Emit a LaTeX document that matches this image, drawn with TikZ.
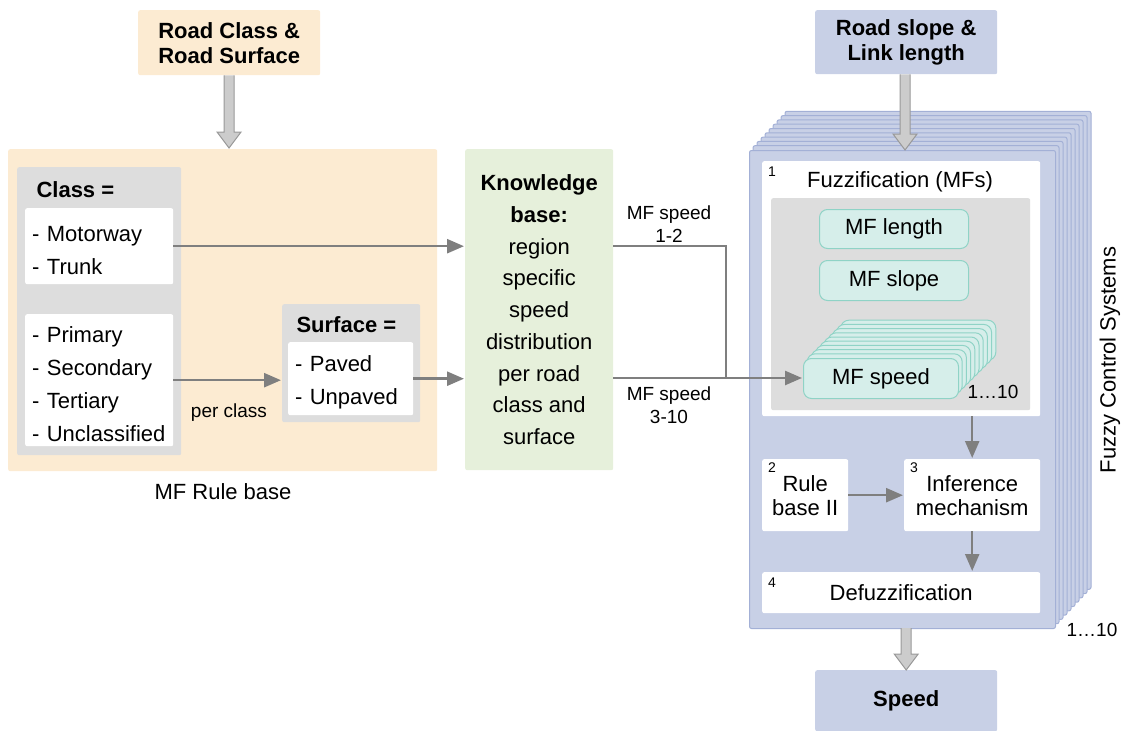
\documentclass[tikz,border=0pt]{standalone}
\usepackage{fontspec}
\setmainfont{Liberation Sans}
\usetikzlibrary{arrows.meta,calc}

\definecolor{peach}{HTML}{FCEBD2}
\definecolor{boxgray}{HTML}{DDDDDD}
\definecolor{kbgreen}{HTML}{E6F0DB}
\definecolor{fcsblue}{HTML}{C8D0E6}
\definecolor{fcsedge}{HTML}{A3B0D6}
\definecolor{mffill}{HTML}{D6EEEA}
\definecolor{mfedge}{HTML}{8FD3C6}
\definecolor{arrowgray}{HTML}{7F7F7F}
\definecolor{hollowfill}{HTML}{CCCCCC}
\definecolor{hollowedge}{HTML}{999999}

% hollow block arrow from one node (or coordinate) down to another
\newcommand{\hollowarrow}[2]{%
  \draw[hollow] ($(#1 -| #2)+(-5,0)$) -- ($(#2)+(-5,-16)$) -- ($(#2)+(-12,-16)$)
    -- (#2) -- ($(#2)+(12,-16)$) -- ($(#2)+(5,-16)$) -- ($(#1 -| #2)+(5,0)$);}

\begin{document}
\begin{tikzpicture}[x=1pt, y=-1pt, font=\fontsize{22}{26}\selectfont,
    panel/.style={anchor=north west, inner sep=0pt, rounded corners=2pt},
    listbox/.style={panel, fill=white, inner xsep=7pt, align=left, font=\fontsize{22}{33}\selectfont},
    title/.style={panel, align=center, font=\bfseries\fontsize{22}{25}\selectfont},
    small/.style={font=\fontsize{19}{23}\selectfont, align=center},
    num/.style={inner sep=0pt, font=\fontsize{14}{14}\selectfont},
    mfbox/.style={panel, fill=mffill, draw=mfedge, line width=1pt, rounded corners=8pt},
    arr/.style={draw=arrowgray, line width=2.5pt, -{Triangle[length=17pt,width=14pt]}, shorten >=1pt},
    conn/.style={draw=arrowgray, line width=2.5pt},
    hollow/.style={fill=hollowfill, draw=hollowedge, line width=1pt}]

    \useasboundingbox (0,0) rectangle (1122,731);

    % --- Input: road class and surface ---
    \node[title, fill=peach, minimum width=182pt, minimum height=65pt] (roadin) at (138,10) {Road Class \&\\Road Surface};

    % --- MF rule base ---
    \node[panel, fill=peach, minimum width=429pt, minimum height=322pt] (rulebase) at (8,149) {};
    \node (rulelbl) at (223,492) {MF Rule base};

    \node[panel, fill=boxgray, minimum width=164pt, minimum height=288pt] (classbox) at (17,167) {};
    \node[anchor=west, font=\bfseries\fontsize{22}{26}\selectfont] (classlbl) at (33,190) {Class =};
    \node[listbox, text width=134pt, minimum height=76pt] (cls1) at (25,208) {\strut- Motorway\\- Trunk};
    \node[listbox, text width=134pt, minimum height=132pt] (cls2) at (25,314) {\strut- Primary\\- Secondary\\- Tertiary\\- Unclassified};

    \node[panel, fill=boxgray, minimum width=138pt, minimum height=118pt] (surfbox) at (282,304) {};
    \node[anchor=west, font=\bfseries\fontsize{22}{26}\selectfont] (surflbl) at (293,325) {Surface =};
    \node[listbox, text width=111pt, minimum height=73pt] (surf) at (288,342) {\strut- Paved\\- Unpaved};
    \node[small] (perclass) at (229,413) {per class};

    % --- Knowledge base ---
    \node[panel, fill=kbgreen, minimum width=148pt, minimum height=321pt, align=center,
          font=\fontsize{22}{31.75}\selectfont] (kb) at (465,149)
          {\textbf{Knowledge}\\\textbf{base:}\\region\\specific\\speed\\distribution\\per road\\class and\\surface};
    \node[small] (mf12) at (669,224) {MF speed\\1-2};
    \node[small] (mf310) at (669,405) {MF speed\\3-10};

    % --- Fuzzy control systems (stack of 10) ---
    \foreach \i in {9,...,1}
        \draw[fill=fcsblue, draw=fcsedge, line width=1pt, rounded corners=2pt]
            (749+4*\i, 150-4.3*\i) rectangle ++(306,478);
    \node[panel, fill=fcsblue, draw=fcsedge, line width=1pt, minimum width=306pt, minimum height=478pt] (fcs) at (749,150) {};
    \node[rotate=90] (fcslbl) at (1110,360) {Fuzzy Control Systems};
    \node[small] (fcsnum) at (1092,630) {1…10};

    % 1: fuzzification
    \node[panel, fill=white, minimum width=278pt, minimum height=255pt] (fuzz) at (762,161) {};
    \node[num] (n1) at (772,172) {1};
    \node (fuzzlbl) at (900,182) {Fuzzification (MFs)};
    \node[panel, fill=boxgray, minimum width=259pt, minimum height=212pt] (mfarea) at (771,198) {};
    \node[mfbox, minimum width=149pt, minimum height=39pt] (mflength) at (819,209) {MF length};
    \node[mfbox, minimum width=149pt, minimum height=40pt] (mfslope) at (819,260) {MF slope};
    \foreach \i in {9,...,1}
        \draw[fill=mffill, draw=mfedge, line width=1pt, rounded corners=8pt]
            (803+4.2*\i, 358-4.2*\i) rectangle ++(155,40);
    \node[mfbox, minimum width=155pt, minimum height=40pt] (mfspeed) at (803,358) {MF speed};
    \node[small] (mfnum) at (993,392) {1…10};

    % 2, 3: rule base and inference
    \node[panel, fill=white, minimum width=86pt, minimum height=72pt, align=center,
          font=\fontsize{22}{24}\selectfont] (rule) at (762,459) {Rule\\base II};
    \node[num] (n2) at (772,468) {2};
    \node[panel, fill=white, minimum width=136pt, minimum height=72pt, align=center,
          font=\fontsize{22}{24}\selectfont] (infer) at (904,459) {Inference\\mechanism};
    \node[num] (n3) at (914,468) {3};

    % 4: defuzzification
    \node[panel, fill=white, minimum width=278pt, minimum height=41pt] (defuzz) at (762,572) {Defuzzification};
    \node[num] (n4) at (772,583) {4};

    % --- Inputs and output of the stack ---
    \node[title, fill=fcsblue, minimum width=182pt, minimum height=64pt] (slopein) at (815,10) {Road slope \&\\Link length};
    \node[title, fill=fcsblue, minimum width=182pt, minimum height=61pt] (speed) at (815,670) {Speed};

    % --- Connectors ---
    \coordinate (tip1) at (229,148);
    \coordinate (tip2) at (905,150);
    \coordinate (base3) at (905,628);
    \coordinate (join) at (726,378);
    \hollowarrow{roadin.south}{tip1}
    \hollowarrow{slopein.south}{tip2}
    \hollowarrow{base3}{speed.north}

    \draw[arr] (cls1.east) -- (cls1.east -| kb.west);
    \draw[arr] (cls2.east) -- (cls2.east -| surfbox.west);
    \draw[arr] (surf.east) -- (surf.east -| kb.west);
    \draw[conn] (kb.east |- cls1.east) -| (join);
    \draw[arr] (kb.east |- join) -- (join -| mfspeed.west);
    \draw[arr] (infer.north |- fuzz.south) -- (infer.north);
    \draw[arr] (rule.east) -- (infer.west);
    \draw[arr] (infer.south) -- (infer.south |- defuzz.north);

\end{tikzpicture}
\end{document}
